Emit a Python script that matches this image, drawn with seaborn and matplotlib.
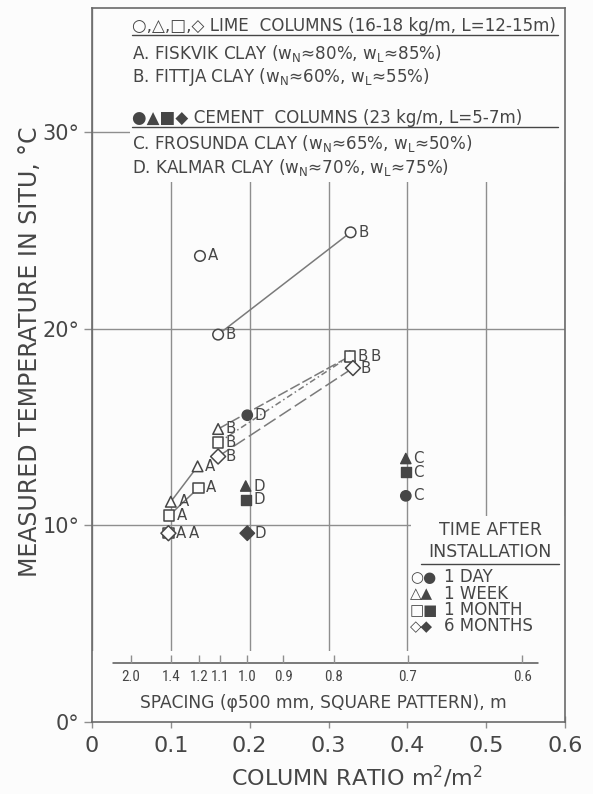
import numpy as np
import pandas as pd
import seaborn as sns
import matplotlib
matplotlib.use("Agg")
import matplotlib.pyplot as plt
from matplotlib.patches import Rectangle
from matplotlib import font_manager
from collections import defaultdict

# ---- measurements -------------------------------------------------------
# Lime columns (open symbols): A = Fiskvik clay, B = Fittja clay
lime_ratio = [0.137, 0.100, 0.134, 0.098, 0.135, 0.097, 0.097,
              0.160, 0.328, 0.160, 0.327, 0.160, 0.327, 0.160, 0.331]
lime_temp = [23.7, 11.2, 13.0, 10.5, 11.9, 9.6, 9.6,
             19.7, 24.9, 14.9, 18.6, 14.2, 18.6, 13.5, 18.0]
lime_time = ['1 DAY', '1 WEEK', '1 WEEK', '1 MONTH', '1 MONTH', '1 MONTH', '6 MONTHS',
             '1 DAY', '1 DAY', '1 WEEK', '1 WEEK', '1 MONTH', '1 MONTH',
             '6 MONTHS', '6 MONTHS']
lime_clay = ['A'] * 7 + ['B'] * 8
lime_run = [None, 'A1W', 'A1W', 'A1M', 'A1M', None, None,
            'B1D', 'B1D', 'B1W', 'B1W', 'B1M', 'B1M', 'B6M', 'B6M']

# Cement columns (filled symbols): C = Frosunda clay, D = Kalmar clay
cement_ratio = [0.398, 0.398, 0.398, 0.197, 0.195, 0.195, 0.197]
cement_temp = [13.4, 12.7, 11.5, 15.6, 12.0, 11.3, 9.6]
cement_time = ['1 WEEK', '1 MONTH', '1 DAY', '1 DAY', '1 WEEK', '1 MONTH', '6 MONTHS']
cement_clay = ['C', 'C', 'C', 'D', 'D', 'D', 'D']

time_levels = ['1 DAY', '1 WEEK', '1 MONTH', '6 MONTHS']
time_glyphs = ['○●', '△▲', '□■', '◇◆']

# column spacing scale (square pattern, 500 mm columns)
spacing_m = [2.0, 1.4, 1.2, 1.1, 1.0, 0.9, 0.8, 0.7, 0.6]
spacing_text = ['2.0', '1.4', '1.2', '1.1', '1.0', '0.9', '0.8', '0.7', '0.6']
column_diameter = 0.5

x_ticks = [0, 0.1, 0.2, 0.3, 0.4, 0.5, 0.6]
x_ticklabels = ['0', '0.1', '0.2', '0.3', '0.4', '0.5', '0.6']
y_ticks = [0, 10, 20, 30]
y_ticklabels = ['0°', '10°', '20°', '30°']

key_lines = [
    ('○,△,□,◇ LIME  COLUMNS (16-18 kg/m, L=12-15m)', True),
    ('A. FISKVIK CLAY ($w_N$≈80%, $w_L$≈85%)', False),
    ('B. FITTJA CLAY ($w_N$≈60%, $w_L$≈55%)', False),
    ('●▲■◆ CEMENT  COLUMNS (23 kg/m, L=5-7m)', True),
    ('C. FROSUNDA CLAY ($w_N$≈65%, $w_L$≈50%)', False),
    ('D. KALMAR CLAY ($w_N$≈70%, $w_L$≈75%)', False),
]

# ---- style ---------------------------------------------------------------
sns.set_theme(style="white")
plt.rcParams['font.family'] = ['DejaVu Sans']
plt.rcParams['mathtext.fontset'] = 'dejavusans'
plt.rcParams['mathtext.default'] = 'regular'

INK = '#464646'
GRID = '#8e8e8e'
LINE = '#7a7a7a'
PAPER = '#fcfcfc'

names = {f.name for f in font_manager.fontManager.ttflist}
narrow = None
for cand in ['Liberation Sans Narrow', 'DejaVu Sans Condensed', 'Roboto Condensed']:
    if cand in names:
        narrow = cand
        break
if narrow is None:
    narrow = 'Liberation Sans' if 'Liberation Sans' in names else 'DejaVu Sans'

lime = pd.DataFrame(dict(ratio=lime_ratio, temp=lime_temp, time=lime_time,
                         clay=lime_clay, run=lime_run))
cement = pd.DataFrame(dict(ratio=cement_ratio, temp=cement_temp, time=cement_time,
                           clay=cement_clay))

fig = plt.figure(figsize=(5.93, 7.94), dpi=100, facecolor=PAPER)
ax = fig.add_axes([0.155, 0.0907, 0.798, 0.899], facecolor=PAPER)
ax.set_xlim(0, 0.6)
ax.set_ylim(0, 36.3)

ax.set_axisbelow(True)
ax.set_xticks(x_ticks)
ax.set_xticklabels(x_ticklabels)
ax.set_yticks(y_ticks)
ax.set_yticklabels(y_ticklabels)
ax.grid(True, color=GRID, lw=1.0)
ax.tick_params(axis='x', direction='inout', length=8, width=1, color=GRID,
               labelsize=16, labelcolor=INK, pad=6, bottom=True)
ax.tick_params(axis='y', direction='out', length=6, width=1, color=GRID,
               labelsize=15, labelcolor=INK, pad=3, left=True)
for sp in ax.spines.values():
    sp.set_color('#6a6a6a')
    sp.set_linewidth(1.2)

# blank panels for the key, the spacing scale and the time key
ax.add_patch(Rectangle((0.048, 27.45), 0.6 - 0.048, 36.3 - 27.45,
                       facecolor=PAPER, edgecolor='none', zorder=1.5))
ax.add_patch(Rectangle((0.0, 0.0), 0.6, 3.6,
                       facecolor=PAPER, edgecolor='none', zorder=1.5))
ax.add_patch(Rectangle((0.405, 3.0), 0.195, 7.5,
                       facecolor=PAPER, edgecolor='none', zorder=1.5))

# connecting lines
runs = lime.dropna(subset=['run'])
dash_map = {'A1W': '', 'A1M': '', 'B1D': '', 'B1W': (7, 2),
            'B1M': (4, 2, 1, 2), 'B6M': (9, 3)}
sns.lineplot(data=runs, x='ratio', y='temp', style='run', dashes=dash_map,
             estimator=None, color=LINE, lw=1.1, legend=False, ax=ax, zorder=3)

markers = {'1 DAY': 'o', '1 WEEK': '^', '1 MONTH': 's', '6 MONTHS': 'D'}
sns.scatterplot(data=lime, x='ratio', y='temp', style='time', markers=markers,
                color=PAPER, edgecolor=INK, linewidth=1.1, s=58,
                legend=False, ax=ax, zorder=4)
sns.scatterplot(data=cement, x='ratio', y='temp', style='time', markers=markers,
                color=INK, edgecolor=INK, linewidth=1.0, s=55,
                legend=False, ax=ax, zorder=4)

# clay letters beside each symbol
seen = defaultdict(int)
for df in (lime, cement):
    for r in df.itertuples():
        k = (r.ratio, r.temp)
        n = seen[k]
        seen[k] += 1
        ax.annotate(r.clay, (r.ratio, r.temp), xytext=(5.5 + 9.2 * n, 0),
                    textcoords='offset points', ha='left', va='center',
                    fontsize=10.8, color=INK, zorder=6)

# key at the top
key_y = [35.4, 34.0, 32.8, 30.7, 29.4, 28.2]
for (txt, head), yy in zip(key_lines, key_y):
    ax.text(0.051, yy, txt, ha='left', va='center', fontsize=12.1, color=INK,
            zorder=6)
    if head:
        ax.plot([0.051, 0.591], [yy - 0.45, yy - 0.45], color=INK, lw=1.0,
                zorder=6)

# spacing scale
area = np.pi * column_diameter ** 2 / 4
spacing_pos = area / np.array(spacing_m) ** 2
ax.plot([0.027, 0.565], [3.0, 3.0], color='#555555', lw=1.1, zorder=6)
ax.vlines(spacing_pos, 3.0, 3.4, color=GRID, lw=1.0, zorder=6)
for p, t in zip(spacing_pos, spacing_text):
    ax.text(p, 2.3, t, ha='center', va='center', fontsize=10.8, color=INK,
            family=[narrow, 'DejaVu Sans'], zorder=6)
ax.text(0.294, 0.95, 'SPACING (φ500 mm, SQUARE PATTERN), m', ha='center',
        va='center', fontsize=12.3, color=INK, zorder=6)

# time-after-installation key
ax.text(0.505, 9.76, 'TIME AFTER', ha='center', va='center', fontsize=12.5,
        color=INK, zorder=6)
ax.text(0.505, 8.65, 'INSTALLATION', ha='center', va='center', fontsize=12.5,
        color=INK, zorder=6)
ax.plot([0.417, 0.592], [8.05, 8.05], color=INK, lw=1.0, zorder=6)
for i, (lvl, g) in enumerate(zip(time_levels, time_glyphs)):
    yy = 7.35 - 0.83 * i
    ax.text(0.403, yy, g, ha='left', va='center', fontsize=10.8, color=INK,
            zorder=6)
    ax.text(0.447, yy, lvl, ha='left', va='center', fontsize=12, color=INK,
            zorder=6)

ax.set_xlabel('COLUMN RATIO m$^2$/m$^2$', fontsize=16, color=INK)
ax.xaxis.set_label_coords(0.56, -0.058)
ax.set_ylabel('MEASURED TEMPERATURE IN SITU, °C', fontsize=17, color=INK)
ax.yaxis.set_label_coords(-0.106, 0.518)

fig.savefig('out.png', dpi=100, facecolor=PAPER)
